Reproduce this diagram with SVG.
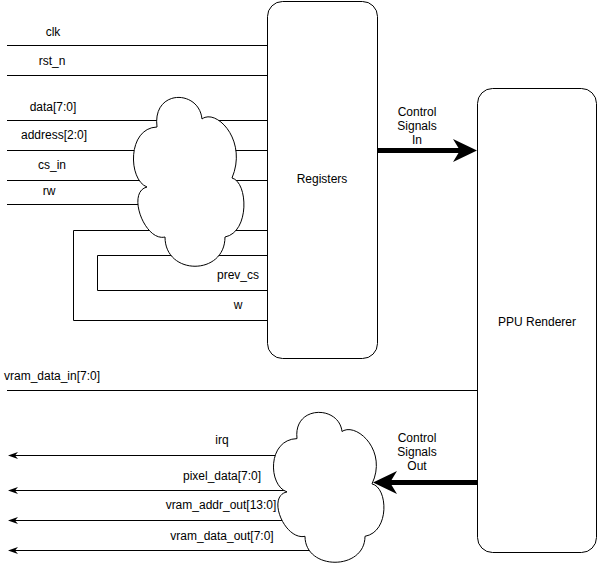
<svg xmlns="http://www.w3.org/2000/svg" width="599" height="571" viewBox="0 0 599 571">
<style>
.ln{fill:none;stroke:#000;stroke-width:1}
.thick{fill:none;stroke:#000;stroke-width:5}
.box{fill:#fff;stroke:#000;stroke-width:1}
.t{font-family:"Liberation Sans",Arial,sans-serif;font-size:12px;fill:#000}
.m{text-anchor:middle}
</style>
<defs>
<marker id="arr" viewBox="0 0 10 7" markerWidth="10" markerHeight="7" refX="3" refY="3.5" orient="auto" markerUnits="userSpaceOnUse">
<path d="M0,0 L10,3.5 L0,7 L3,3.5 Z" fill="#000"/>
</marker>
<marker id="big" viewBox="0 0 24 23" markerWidth="24" markerHeight="23" refX="7" refY="11.5" orient="auto" markerUnits="userSpaceOnUse">
<path d="M0,0 L24,11.5 L0,23 L7,11.5 Z" fill="#000"/>
</marker>
</defs>
<rect width="599" height="571" fill="#fff"/>
<g id="connectors">
<path class="ln" d="M7,45.5 H267"/>
<path class="ln" d="M7,75.5 H267"/>
<path class="ln" d="M7,120.5 H267"/>
<path class="ln" d="M7,150.5 H267"/>
<path class="ln" d="M7,180.5 H267"/>
<path class="ln" d="M7,204.5 H160"/>
<path class="ln" d="M267,230.5 H73.5 V320.5 H267"/>
<path class="ln" d="M267,255.5 H97.5 V290.5 H267"/>
<path class="ln" d="M7,390.5 H477"/>
<path class="ln" d="M300,455.5 H15" marker-end="url(#arr)"/>
<path class="ln" d="M310,490.5 H15" marker-end="url(#arr)"/>
<path class="ln" d="M310,520.5 H15" marker-end="url(#arr)"/>
<path class="ln" d="M330,550.5 H15" marker-end="url(#arr)"/>
<path class="thick" d="M377,150.5 H460" marker-end="url(#big)"/>
<path class="thick" d="M477,482.5 H390" marker-end="url(#big)"/>
</g>
<g id="registers">
<rect class="box" x="267.5" y="1.5" width="110" height="357" rx="15" ry="15"/>
<text class="t m" x="322" y="183">Registers</text>
</g>
<g id="ppu-renderer">
<rect class="box" x="477.5" y="88.5" width="119" height="464" rx="15" ry="15"/>
<text class="t m" x="537" y="326">PPU Renderer</text>
</g>
<g id="cloud-in">
<path class="box" d="M157,127 C152,89 199,89 202,119 C216,108 248,140 232,178 C248,182 250,232 225,237 C225,276 165,276 165,237 C145,242 126,192 147,187 C128,180 127,128 157,127 Z"/>
</g>
<g id="cloud-out">
<path class="box" d="M297,438.6 C293,404.9 339,404.9 342,431.5 C356,421.8 388,450.2 372,483.9 C388,487.4 390,531.8 365,536.3 C365,570.9 305,570.9 305,536.3 C285,540.7 266,496.3 287,491.9 C268,485.7 267,439.5 297,438.6 Z"/>
</g>
<g id="labels">
<text class="t m" x="53" y="36">clk</text>
<text class="t m" x="52" y="65">rst_n</text>
<text class="t m" x="53" y="111">data[7:0]</text>
<text class="t m" x="54" y="138.5">address[2:0]</text>
<text class="t m" x="52" y="168.5">cs_in</text>
<text class="t m" x="49" y="195">rw</text>
<text class="t m" x="238" y="279">prev_cs</text>
<text class="t m" x="238" y="309">w</text>
<text class="t m" x="417" y="116">Control</text>
<text class="t m" x="417" y="130">Signals</text>
<text class="t m" x="417" y="144">In</text>
<text class="t" x="4" y="379.5">vram_data_in[7:0]</text>
<text class="t m" x="222" y="443.5">irq</text>
<text class="t m" x="222" y="479.5">pixel_data[7:0]</text>
<text class="t m" x="221" y="509">vram_addr_out[13:0]</text>
<text class="t m" x="222" y="539.5">vram_data_out[7:0]</text>
<text class="t m" x="417" y="441.5">Control</text>
<text class="t m" x="417" y="455.5">Signals</text>
<text class="t m" x="417" y="469.5">Out</text>
</g>
</svg>
